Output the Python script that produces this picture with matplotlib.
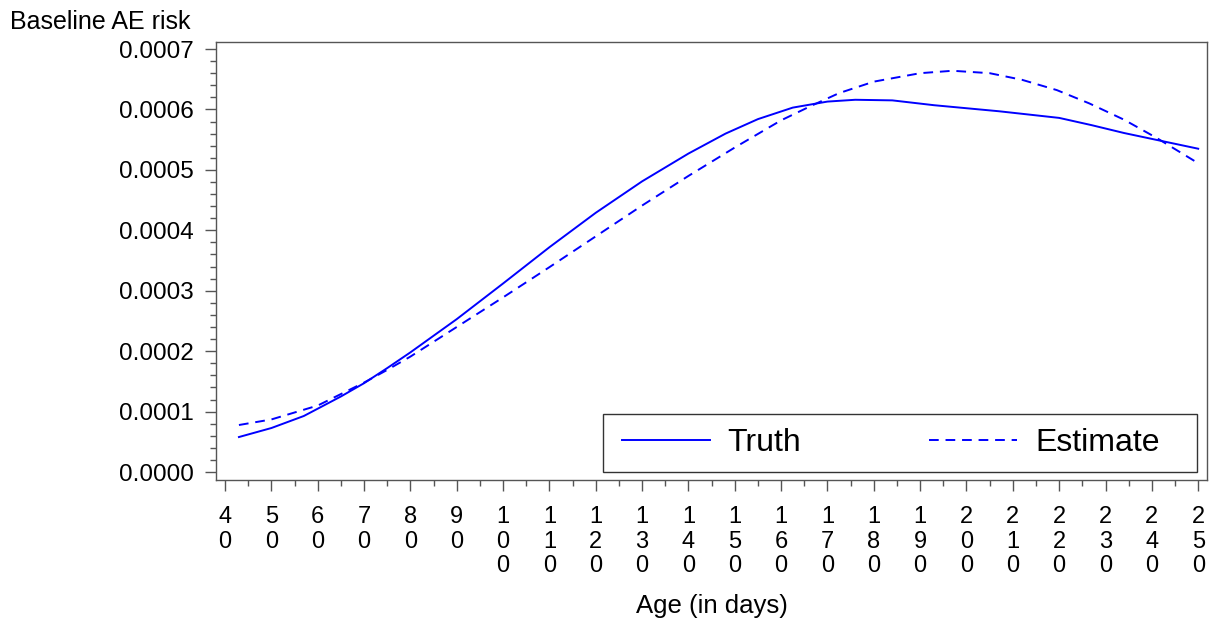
import matplotlib

matplotlib.use("Agg")
import matplotlib.pyplot as plt
from matplotlib.patches import Rectangle
from matplotlib.ticker import MultipleLocator, FormatStrFormatter

plt.rcParams["font.family"] = ["Liberation Sans", "DejaVu Sans"]

# Truth curve (solid)
truth_age = [43, 50, 57, 65, 70, 75, 80, 90, 100, 110, 120, 130, 140, 148,
             155, 162.5, 170, 176, 184, 193, 207, 220, 227, 234, 242, 250]
truth_risk = [0.0000579, 0.0000728, 0.0000927, 0.000125, 0.000147, 0.000172,
              0.000198, 0.000253, 0.000312, 0.000372, 0.000429, 0.000481,
              0.000527, 0.000560, 0.000584, 0.000603, 0.000613, 0.000616,
              0.000615, 0.000607, 0.000597, 0.000586, 0.000574, 0.000561,
              0.000548, 0.000535]

# Estimate curve (dashed)
est_age = [43, 50, 60, 70, 75, 80, 90, 100, 110, 120, 130, 140, 150, 160,
           166.5, 172.5, 180, 190, 197, 205, 212, 219.5, 226.5, 234, 241, 250]
est_risk = [0.0000778, 0.000087, 0.000110, 0.000148, 0.000169, 0.000191,
            0.000240, 0.000289, 0.000339, 0.000390, 0.000441, 0.000490,
            0.000537, 0.000582, 0.000606, 0.000627, 0.000646, 0.000660,
            0.000664, 0.000660, 0.000649, 0.000632, 0.000610, 0.000583,
            0.000553, 0.000511]

x_ticks = list(range(40, 251, 10))
x_tick_labels = ["\n".join(str(v)) for v in x_ticks]

fig = plt.figure(figsize=(12.1, 6.22), dpi=100)
ax = fig.add_axes([216 / 1210, 1 - 480 / 622, 991 / 1210, 438 / 622])

ax.plot(truth_age, truth_risk, color="#0000ff", lw=1.4, label="Truth")
ax.plot(est_age, est_risk, color="#0000ff", lw=1.4, dashes=(5, 3.5),
        label="Estimate")

ax.set_xlim(38.05, 251.9)
ax.set_ylim(-0.0000132, 0.0007116)

ax.set_xticks(x_ticks)
ax.set_xticklabels(x_tick_labels, linespacing=1.15)
ax.xaxis.set_minor_locator(MultipleLocator(5))
ax.yaxis.set_major_locator(MultipleLocator(0.0001))
ax.yaxis.set_minor_locator(MultipleLocator(0.00002))
ax.yaxis.set_major_formatter(FormatStrFormatter("%.4f"))

edge = "#555555"
for s in ax.spines.values():
    s.set_color(edge)
    s.set_linewidth(1.0)
ax.tick_params(axis="both", which="major", length=8, width=1.0, color=edge,
               labelcolor="black")
ax.tick_params(axis="both", which="minor", length=4, width=1.0, color=edge)
ax.tick_params(axis="y", which="major", pad=8, labelsize=17.5)
ax.tick_params(axis="x", which="major", pad=11, labelsize=17)

# legend frame drawn as its own box, legend entries placed inside it
ax.add_patch(Rectangle((0.3905, 0.0183), 0.5994, 0.1324, transform=ax.transAxes,
                       facecolor="white", edgecolor="#333333", lw=1.0,
                       zorder=4))
leg = ax.legend(loc="center left", bbox_to_anchor=((622 - 216) / 991, (480 - 443) / 438),
                ncol=2, fontsize=23, frameon=False, handlelength=2.75,
                handletextpad=0.56, columnspacing=4.0, borderpad=0,
                borderaxespad=0)
leg.set_zorder(6)

fig.text(10 / 1210, 1 - 10 / 622, "Baseline AE risk", fontsize=18,
         ha="left", va="top")
fig.text(712 / 1210, 1 - 606 / 622, "Age (in days)", fontsize=18.5,
         ha="center", va="center")

fig.savefig("out.png", dpi=100)
